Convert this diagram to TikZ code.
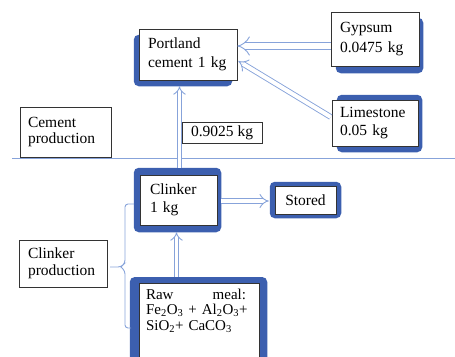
\documentclass[tikz,border=0pt]{standalone}
\usepackage{fontspec}
\setmainfont{Liberation Serif}
\usetikzlibrary{arrows.meta,backgrounds,calc}
\definecolor{sh}{RGB}{60,95,175}
\definecolor{ln}{RGB}{135,163,218}
\begin{document}
\begin{tikzpicture}[x=1pt,y=-1pt,
  box/.style={draw=black!80, line width=0.5pt, fill=white, align=left,
    font=\fontsize{15.5}{18}\selectfont, inner ysep=2pt},
  dbl/.style={draw=ln, line width=0.9pt, double=white, double distance=3.5pt, -{Implies}},
  shd/.style={fill=sh, rounded corners=5pt}]
\useasboundingbox (0,0) rectangle (455,356);
% separator
\draw[ln, line width=1pt] (12,158) -- (455,158);
% nodes
\node[box, minimum width=98pt, minimum height=51pt, inner xsep=9pt, text width=80pt,
  font=\fontsize{15.5}{19}\selectfont] (port) at (188,54.5) {Portland\\cement 1 kg};
\node[box, minimum width=88pt, minimum height=54pt, inner xsep=9pt, text width=70pt,
  font=\fontsize{15.5}{20}\selectfont] (gyp) at (375,39) {Gypsum\\0.0475 kg};
\node[box, minimum width=86pt, minimum height=46pt, inner xsep=8pt, text width=70pt] (lime) at (375,123) {Limestone\\0.05 kg};
\node[box, minimum width=91pt, minimum height=50pt, inner xsep=8pt, text width=75pt,
  font=\fontsize{15.5}{16.5}\selectfont] (cem) at (65.5,132) {Cement\\production};
\node[box, minimum width=80pt, minimum height=21pt, inner xsep=2pt, align=center] (mass) at (222,132.5) {0.9025 kg};
\node[box, minimum width=77pt, minimum height=50pt, inner xsep=10pt, text width=57pt] (clk) at (178.5,200) {Clinker\\1 kg};
\node[box, minimum width=61pt, minimum height=28pt, inner xsep=2pt, align=center] (sto) at (305.5,200) {Stored};
\node[box, minimum width=88pt, minimum height=47pt, inner xsep=9pt, text width=70pt,
  font=\fontsize{15.5}{16.5}\selectfont] (ccp) at (63,263.5) {Clinker\\production};
\node[box, anchor=north, minimum width=120pt, inner xsep=7pt, inner ysep=5pt, text width=106pt,
  text height=11pt, text depth=90pt, font=\fontsize{15}{15.5}\selectfont] (raw) at (199,283)
  {\parbox[t]{100pt}{Raw\hfill meal:\\\mbox{Fe\textsubscript{2}O\textsubscript{3} + Al\textsubscript{2}O\textsubscript{3}+}\\SiO\textsubscript{2}+ CaCO\textsubscript{3}}};
% shadows and thick borders
\begin{scope}[on background layer]
  \fill[shd] ($(port.north west)+(-5,6)$) rectangle ($(port.south east)+(-5,6)$);
  \fill[shd] ($(gyp.north west)+(5,6)$) rectangle ($(gyp.south east)+(4,7)$);
  \fill[shd] ($(lime.north west)+(5,-5)$) rectangle ($(lime.south east)+(4,6)$);
  \fill[shd] ($(clk.north west)+(-6,-7)$) rectangle ($(clk.south east)+(4,7)$);
  \fill[shd] ($(sto.north west)+(-5,-4)$) rectangle ($(sto.south east)+(5,4)$);
  \fill[shd] ($(raw.north west)+(-9,-6)$) rectangle ($(raw.south east)+(8,4)$);
\end{scope}
% connectors
\draw[dbl, shorten <=7pt, shorten >=6pt] ([xshift=1pt]clk.north) -- ([xshift=1pt]clk.north |- port.south);
\draw[dbl, shorten <=6pt, shorten >=7pt] ([xshift=-2pt]clk.south |- raw.north) -- ([xshift=-2pt]clk.south);
\draw[dbl, double distance=4pt] ([xshift=4pt,yshift=-1pt]clk.east) -- ([xshift=-6pt,yshift=-1pt]sto.west);
\draw[dbl, double distance=6pt] ($(gyp.west)+(0,7)$) -- ($(port.east)+(0,-8.5)$);
\draw[dbl, double distance=4pt] ($(lime.west)+(-1,-6)$) -- ($(port.east)+(1,6.5)$);
% brace
\draw[ln, line width=0.9pt, rounded corners=3pt]
  (134,204) -- (125,204) -- (125,263) -- (121,267) -- (110,267);
\draw[ln, line width=0.9pt, rounded corners=3pt]
  (121,267) -- (125,271) -- (125,328) -- (131,328);
\end{tikzpicture}
\end{document}
